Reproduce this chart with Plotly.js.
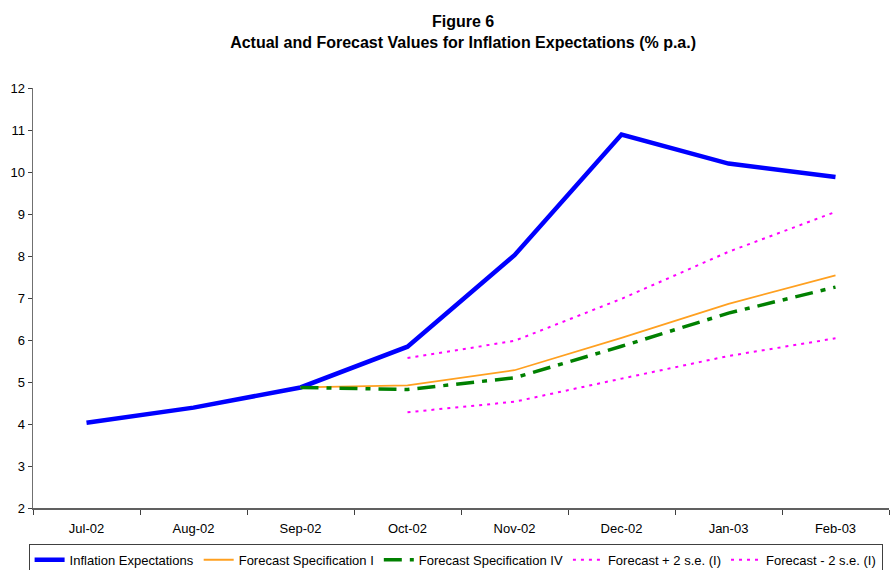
<!DOCTYPE html>
<html>
<head>
<meta charset="utf-8">
<script src="https://cdn.plot.ly/plotly-3.0.1.min.js"></script>
<style>html,body{margin:0;padding:0;background:#fff;}#chart{width:894px;height:570px;}</style>
</head>
<body>
<div id="chart"></div>
<script>
const months = ["Jul-02","Aug-02","Sep-02","Oct-02","Nov-02","Dec-02","Jan-03","Feb-03"];
const inflationExpectations = [4.03, 4.39, 4.87, 5.84, 8.02, 10.89, 10.20, 9.88];
const forecastSpecI = [null, null, 4.87, 4.92, 5.28, 6.05, 6.86, 7.54];
const forecastSpecIV = [null, null, 4.87, 4.82, 5.10, 5.85, 6.64, 7.26];
const forecastPlus2se = [null, null, null, 5.57, 5.98, 6.98, 8.10, 9.05];
const forecastMinus2se = [null, null, null, 4.28, 4.53, 5.08, 5.62, 6.04];
const seriesNames = ["Inflation Expectations","Forecast Specification I","Forecast Specification IV","Forecast + 2 s.e. (I)","Forecast - 2 s.e. (I)"];

const traces = [
  {x: months, y: inflationExpectations, name: seriesNames[0], mode: "lines", line: {color: "#0000FF", width: 4.5}},
  {x: months, y: forecastSpecI, name: seriesNames[1], mode: "lines", line: {color: "#FFA020", width: 1.8}},
  {x: months, y: forecastSpecIV, name: seriesNames[2], mode: "lines", line: {color: "#008000", width: 3.5, dash: "18px,8px,5px,8px"}},
  {x: months, y: forecastPlus2se, name: seriesNames[3], mode: "lines", line: {color: "#FF00FF", width: 2, dash: "3px,5px"}},
  {x: months, y: forecastMinus2se, name: seriesNames[4], mode: "lines", line: {color: "#FF00FF", width: 2, dash: "3px,5px"}}
];

const layout = {
  width: 894, height: 570,
  margin: {l: 33, r: 5, t: 88, b: 62, autoexpand: false},
  paper_bgcolor: "#fff", plot_bgcolor: "#fff",
  font: {family: "Liberation Sans, Arial, sans-serif", size: 13, color: "#000"},
  title: {
    text: "<b>Figure 6</b><br><b>Actual and Forecast Values for Inflation Expectations (% p.a.)</b>",
    font: {family: "Liberation Sans, Arial, sans-serif", size: 16, color: "#000"},
    x: 0.518, xanchor: "center", y: 0.952, yanchor: "middle"
  },
  xaxis: {
    type: "category", range: [-0.5, 7.5],
    showgrid: false, zeroline: false,
    showline: true, linecolor: "#606060", linewidth: 1.5,
    ticks: "outside", tickson: "boundaries", ticklen: 5, tickcolor: "#404040",
    ticklabelstandoff: 8,
    tickfont: {size: 13}
  },
  yaxis: {
    range: [2, 12], dtick: 1,
    showgrid: false, zeroline: false,
    showline: true, linecolor: "#707070", linewidth: 1.5,
    ticks: "outside", ticklen: 4, tickcolor: "#404040",
    tickfont: {size: 13}
  },
  showlegend: true,
  legend: {
    orientation: "h", xref: "container", x: 0.032, xanchor: "left",
    yref: "container", y: 0.046, yanchor: "top",
    bordercolor: "#404040", borderwidth: 1, bgcolor: "#fff",
    font: {size: 13}, itemwidth: 30, tracegroupgap: 0
  }
};

Plotly.newPlot("chart", traces, layout, {displayModeBar: false, staticPlot: true});
</script>
</body>
</html>
